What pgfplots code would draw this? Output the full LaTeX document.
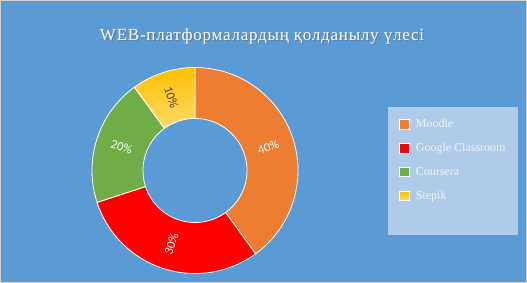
\documentclass[border=0pt]{standalone}
\usepackage{fontspec}
\setmainfont{Liberation Serif}
\newfontfamily\lblfont{Carlito}
\newfontfamily\titlefont[LetterSpace=4.5]{Liberation Serif}
\usepackage{pgfplots}
\pgfplotsset{compat=1.18}
\definecolor{bg}{HTML}{5B9BD5}
\definecolor{bgborder}{HTML}{D0D0D0}
\definecolor{legbg}{HTML}{AECBEA}
\definecolor{cMoodle}{HTML}{ED7D31}
\definecolor{cGoogle}{HTML}{FF0000}
\definecolor{cCoursera}{HTML}{70AD47}
\definecolor{cStepikT}{HTML}{FFC000}
\definecolor{cStepikB}{HTML}{FFDA6A}
\definecolor{legtext}{HTML}{F2F2F2}
% slice: start percent, end percent, style  (values: Moodle 40, Google Classroom 30, Coursera 20, Stepik 10)
\newcommand{\slice}[3]{%
  \addplot[#3, draw=white, line width=0.8pt, variable=\t,
    samples at={0,0.01,...,1,1.00001,1.01,1.02,...,2.001}, forget plot]
    ({195 + donutrad(\t)*cos(90-3.6*donutang(\t,#1,#2))},
     {112.5 + donutrad(\t)*sin(90-3.6*donutang(\t,#1,#2))}) -- cycle;}
\begin{document}
\begin{tikzpicture}
\begin{axis}[
  scale only axis, width=527pt, height=283pt,
  xmin=0, xmax=527, ymin=0, ymax=283,
  hide axis, clip=false,
  declare function={
    donutrad(\t)=(\t<=1)*103+(\t>1)*52;
    donutang(\t,\a,\b)=(\t<=1)*(\a+(\b-\a)*\t)+(\t>1)*(\b-(\b-\a)*min(\t-1,1));
  },
  legend style={at={(axis cs:399,166)}, anchor=north west, fill=none, draw=none,
    font=\fontsize{12}{14}\selectfont, text=legtext, row sep=10.2pt,
    inner sep=0pt, cells={anchor=west},
    /tikz/every odd column/.append style={column sep=4.5pt}},
  legend cell align=left,
  legend image code/.code={\draw[#1, draw=white, line width=0.6pt] (0pt,-4.8pt) rectangle (9.6pt,4.8pt);},
]
% background
\fill[bg] (axis cs:0,0) rectangle (axis cs:527,283);
\draw[bgborder, line width=0.8pt] (axis cs:0.4,0.4) rectangle (axis cs:526.6,282.6);
% legend box
\fill[legbg] (axis cs:388,48) rectangle (axis cs:518,176);
% donut slices
\slice{0}{40}{fill=cMoodle}
\slice{40}{70}{fill=cGoogle}
\slice{70}{90}{fill=cCoursera}
\slice{90}{100}{top color=cStepikT, bottom color=cStepikB}
% legend entries
\addlegendimage{fill=cMoodle}\addlegendentry{Moodle}
\addlegendimage{fill=cGoogle}\addlegendentry{Google Classroom}
\addlegendimage{fill=cCoursera}\addlegendentry{Coursera}
\addlegendimage{top color=cStepikT, bottom color=cStepikB}\addlegendentry{Stepik}
% data labels
\node[font=\lblfont\fontsize{12.5}{14}\selectfont, text=white, rotate=18] at (axis cs:{195+77*cos(18)},{112.5+77*sin(18)}) {40\%};
\node[font=\lblfont\fontsize{12.5}{14}\selectfont, text=white, rotate=72] at (axis cs:{195+77*cos(-108)},{112.5+77*sin(-108)}) {30\%};
\node[font=\lblfont\fontsize{12.5}{14}\selectfont, text=white, rotate=-18] at (axis cs:{195+77*cos(162)},{112.5+77*sin(162)}) {20\%};
\node[font=\lblfont\fontsize{12.5}{14}\selectfont, text=black!75, rotate=-72] at (axis cs:{195+77*cos(108)},{112.5+77*sin(108)}) {10\%};
% title
\node[font=\titlefont\fontsize{17}{20}\selectfont, text=black!60, opacity=0.55, anchor=base] at (axis cs:263.2,241.5) {WEB-платформалардың қолданылу үлесі};
\node[font=\titlefont\fontsize{17}{20}\selectfont, text=white, anchor=base] at (axis cs:262,242.7) {WEB-платформалардың қолданылу үлесі};
\end{axis}
\end{tikzpicture}
\end{document}
